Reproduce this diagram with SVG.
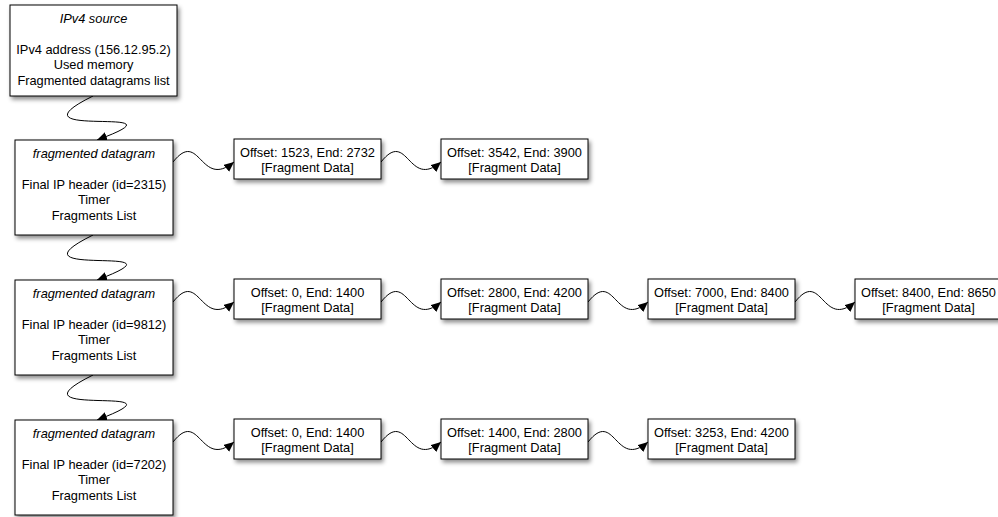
<svg xmlns="http://www.w3.org/2000/svg" width="998" height="517" viewBox="0 0 998 517">
<defs>
<filter id="sh" x="-10%" y="-10%" width="130%" height="140%">
<feDropShadow dx="2" dy="3" stdDeviation="2" flood-color="#000" flood-opacity="0.45"/>
</filter>
<marker id="ah" markerWidth="11" markerHeight="9" refX="10" refY="4.5" orient="auto" markerUnits="userSpaceOnUse">
<path d="M0,0 L10,4.5 L0,9 Z" fill="#000"/>
</marker>
</defs>
<style>
rect{fill:#fff;stroke:#000;stroke-width:1;filter:url(#sh)}
text{font-family:"Liberation Sans",Arial,sans-serif;font-size:12.8px;text-anchor:middle;fill:#000}
.i{font-style:italic}
.c path{fill:none;stroke:#000;stroke-width:1;marker-end:url(#ah)}
</style>
<g class="c" id="connectors">
<path d="M93,96 C0,142 198,103 97,140"/>
<path d="M93,235 C0,281 198,242 97,280"/>
<path d="M93,375 C0,421 198,382 97,420"/>
<path d="M173,162 c27,-34 27,28 61,0"/>
<path d="M381,162 c27,-34 27,28 60,0"/>
<path d="M173,302 c27,-34 27,28 61,0"/>
<path d="M381,302 c27,-34 27,28 60,0"/>
<path d="M588,302 c27,-34 27,28 60,0"/>
<path d="M795,302 c27,-34 27,28 60,0"/>
<path d="M173,442 c27,-34 27,28 61,0"/>
<path d="M381,442 c27,-34 27,28 60,0"/>
<path d="M588,442 c27,-34 27,28 60,0"/>
</g>
<g id="source">
<rect x="10" y="5" width="167" height="91"/>
<text x="93.5" y="22.5" class="i">IPv4 source</text>
<text x="93.5" y="53.5">IPv4 address (156.12.95.2)</text>
<text x="93.5" y="69">Used memory</text>
<text x="93.5" y="84.5">Fragmented datagrams list</text>
</g>
<g id="dg1">
<rect x="15" y="140" width="158" height="95"/>
<text x="94" y="157.5" class="i">fragmented datagram</text>
<text x="94" y="188.5">Final IP header (id=2315)</text>
<text x="94" y="204">Timer</text>
<text x="94" y="219.5">Fragments List</text>
</g>
<g id="dg2">
<rect x="15" y="280" width="158" height="95"/>
<text x="94" y="297.5" class="i">fragmented datagram</text>
<text x="94" y="328.5">Final IP header (id=9812)</text>
<text x="94" y="344">Timer</text>
<text x="94" y="359.5">Fragments List</text>
</g>
<g id="dg3">
<rect x="15" y="420" width="158" height="95"/>
<text x="94" y="437.5" class="i">fragmented datagram</text>
<text x="94" y="468.5">Final IP header (id=7202)</text>
<text x="94" y="484">Timer</text>
<text x="94" y="499.5">Fragments List</text>
</g>
<g id="f11">
<rect x="234" y="139" width="147" height="40"/>
<text x="307.5" y="156.5">Offset: 1523, End: 2732</text>
<text x="307.5" y="172">[Fragment Data]</text>
</g>
<g id="f12">
<rect x="441" y="139" width="147" height="40"/>
<text x="514.5" y="156.5">Offset: 3542, End: 3900</text>
<text x="514.5" y="172">[Fragment Data]</text>
</g>
<g id="f21">
<rect x="234" y="279" width="147" height="40"/>
<text x="307.5" y="296.5">Offset: 0, End: 1400</text>
<text x="307.5" y="312">[Fragment Data]</text>
</g>
<g id="f22">
<rect x="441" y="279" width="147" height="40"/>
<text x="514.5" y="296.5">Offset: 2800, End: 4200</text>
<text x="514.5" y="312">[Fragment Data]</text>
</g>
<g id="f23">
<rect x="648" y="279" width="147" height="40"/>
<text x="721.5" y="296.5">Offset: 7000, End: 8400</text>
<text x="721.5" y="312">[Fragment Data]</text>
</g>
<g id="f24">
<rect x="855" y="279" width="147" height="40"/>
<text x="928.5" y="296.5">Offset: 8400, End: 8650</text>
<text x="928.5" y="312">[Fragment Data]</text>
</g>
<g id="f31">
<rect x="234" y="419" width="147" height="40"/>
<text x="307.5" y="436.5">Offset: 0, End: 1400</text>
<text x="307.5" y="452">[Fragment Data]</text>
</g>
<g id="f32">
<rect x="441" y="419" width="147" height="40"/>
<text x="514.5" y="436.5">Offset: 1400, End: 2800</text>
<text x="514.5" y="452">[Fragment Data]</text>
</g>
<g id="f33">
<rect x="648" y="419" width="147" height="40"/>
<text x="721.5" y="436.5">Offset: 3253, End: 4200</text>
<text x="721.5" y="452">[Fragment Data]</text>
</g>
</svg>
